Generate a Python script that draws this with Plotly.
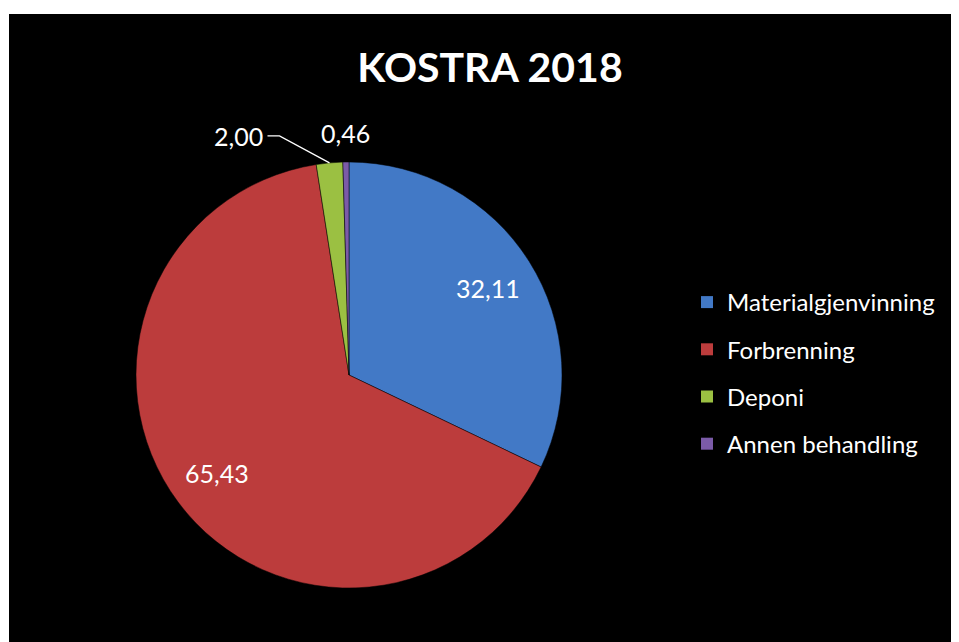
import math
import plotly.graph_objects as go

categories = ["Materialgjenvinning", "Forbrenning", "Deponi", "Annen behandling"]
values = [32.11, 65.43, 2.00, 0.46]
colors = ["#4279C6", "#BC3C3C", "#9BC042", "#7B5BA8"]
title_text = "KOSTRA 2018"

W, H = 959, 642
OFF = 8  # page body margin
cx, cy, r = 349 - OFF, 375 - OFF, 213

def px(x):
    return x / W

def py(y):
    return 1 - y / H

fig = go.Figure()
fig.add_trace(go.Pie(
    labels=categories,
    values=values,
    sort=False,
    direction="clockwise",
    rotation=0,
    marker=dict(colors=colors, line=dict(color="#000000", width=0.5)),
    textinfo="none",
    showlegend=False,
    domain=dict(x=[px(cx - r), px(cx + r)], y=[py(cy + r), py(cy - r)]),
    hoverinfo="label+value",
))

for name, col in zip(categories, colors):
    fig.add_trace(go.Scatter(
        x=[None], y=[None], mode="markers", name=name,
        marker=dict(symbol="square", size=12, color=col),
        legendgroup=name, showlegend=True,
    ))

# data labels placed from the slice angles
total = sum(values)
annotations = []
shapes = [dict(type="rect", xref="paper", yref="paper",
               x0=px(9 - OFF), x1=px(951 - OFF), y0=0, y1=py(14 - OFF),
               fillcolor="black", line=dict(width=0), layer="below")]
cum = 0.0
label_font = dict(family="Lato", size=25, color="white")
for i, v in enumerate(values):
    mid = (cum + v / 2) / total * 2 * math.pi
    cum += v
    txt = f"{v:.2f}".replace(".", ",")
    sx, cx_ = math.sin(mid), math.cos(mid)
    if v > 10:
        k = 0.77
        x, y = cx + k * r * sx, cy - k * r * cx_
        annotations.append(dict(x=px(x), y=py(y), xref="paper", yref="paper",
                                xanchor="center", yanchor="middle",
                                text=txt, showarrow=False, font=label_font))
    elif i == 2:
        ex, ey = cx + r * sx, cy - r * cx_
        elx, ely = ex - 50, ey - 27
        stx = elx - 12
        shapes.append(dict(type="path", xref="paper", yref="paper",
                           path=f"M {px(stx)} {py(ely)} L {px(elx)} {py(ely)} L {px(ex)} {py(ey)}",
                           line=dict(color="white", width=1.3)))
        annotations.append(dict(x=px(stx - 2), y=py(ely), xref="paper", yref="paper",
                                xanchor="right", yanchor="middle",
                                text=txt, showarrow=False, font=label_font))
    else:
        x, y = cx + 1.136 * r * sx, cy - 1.136 * r * cx_
        annotations.append(dict(x=px(x), y=py(y), xref="paper", yref="paper",
                                xanchor="center", yanchor="middle",
                                text=txt, showarrow=False, font=label_font))

fig.update_layout(
    width=W, height=H,
    margin=dict(l=0, r=0, t=0, b=0),
    paper_bgcolor="white",
    plot_bgcolor="rgba(0,0,0,0)",
    title=dict(text="<b>" + title_text + "</b>", x=px(490 - OFF), xanchor="center",
               y=py(68 - OFF), yanchor="middle",
               font=dict(family="Lato", size=41, color="white")),
    legend=dict(x=px(687 - OFF), y=py(280 - OFF), xanchor="left", yanchor="top",
                font=dict(family="Lato", size=24, color="white"),
                bgcolor="rgba(0,0,0,0)", tracegroupgap=13, itemsizing="constant"),
    xaxis=dict(visible=False),
    yaxis=dict(visible=False),
    annotations=annotations,
    shapes=shapes,
)

fig.write_html("out.html")
